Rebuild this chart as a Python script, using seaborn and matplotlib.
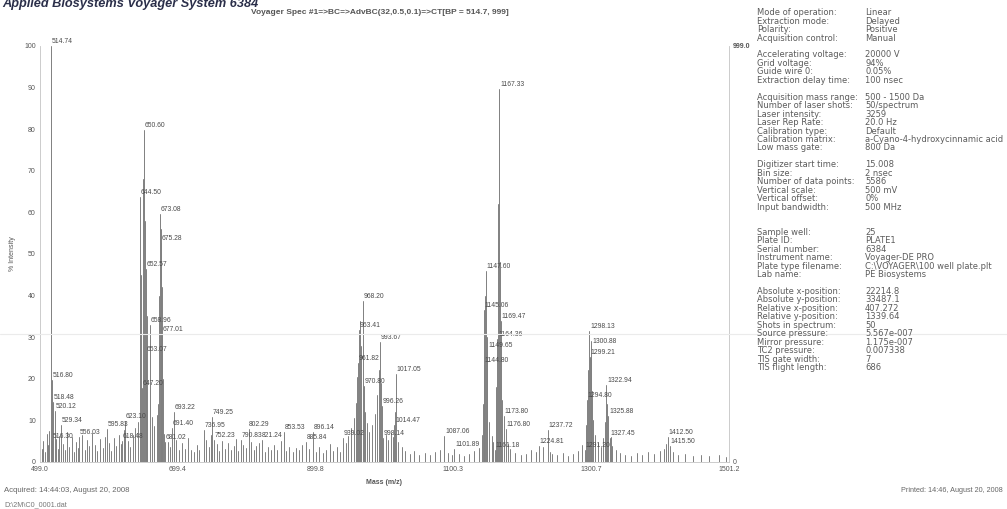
import matplotlib
matplotlib.use("Agg")
import matplotlib.pyplot as plt
import seaborn as sns
import pandas as pd

# ---------------------------------------------------------------- data
# annotated peaks: m/z and relative intensity (%)
peak_mz = [514.74, 516.80, 518.48, 520.12, 529.34, 516.30, 556.03, 595.83,
           623.10, 618.48, 650.60, 644.50, 673.08, 675.28, 652.57, 658.96,
           677.01, 653.07, 647.20, 693.22, 691.40, 681.02, 736.95, 749.25,
           752.23, 790.83, 802.29, 821.24, 853.53, 885.84, 896.14, 939.02,
           968.20, 963.41, 993.67, 961.82, 1017.05, 970.80, 996.26, 1014.47,
           998.14, 1087.06, 1101.89, 1167.33, 1147.60, 1145.06, 1169.47,
           1164.36, 1149.65, 1144.80, 1173.80, 1176.80, 1161.18, 1237.72,
           1224.81, 1298.13, 1300.88, 1299.21, 1322.94, 1294.80, 1325.88,
           1327.45, 1291.20, 1412.50, 1415.50]
peak_int = [100.0, 19.7, 14.4, 12.3, 8.9, 5.0, 6.0, 7.9,
            9.9, 5.0, 79.8, 63.7, 59.6, 52.6, 46.4, 32.9,
            30.8, 26.0, 17.8, 12.0, 8.2, 4.8, 7.7, 10.8,
            5.3, 5.3, 7.9, 5.3, 7.2, 4.8, 7.2, 5.8,
            38.7, 31.7, 28.8, 23.8, 21.2, 18.3, 13.5, 8.9,
            5.8, 6.3, 3.1, 89.7, 45.9, 36.5, 33.9,
            29.6, 26.9, 23.3, 11.1, 7.9, 2.9, 7.7,
            3.8, 31.5, 27.9, 25.2, 18.5, 14.9, 11.1,
            5.8, 2.9, 6.0, 3.8]

# unlabelled peaks (m/z, relative intensity %)
minor_low = [(501.2, 3.2), (503.6, 5.1), (506.1, 2.4), (508.9, 6.8), (511.3, 4.2),
             (512.6, 7.5), (522.4, 5.6), (524.9, 3.1), (527.1, 6.2), (532.5, 4.4),
             (535.8, 2.8), (538.2, 7.1), (541.7, 3.6), (545.3, 5.9), (548.6, 2.5),
             (551.2, 4.8), (553.9, 3.3), (560.4, 6.5), (563.8, 2.9), (567.2, 5.2),
             (570.5, 3.8), (574.1, 6.9), (578.3, 4.1), (582.6, 2.7), (586.9, 5.5),
             (590.2, 3.4), (593.4, 6.1), (599.1, 4.6), (602.7, 2.6), (606.3, 5.8),
             (609.8, 3.9), (613.5, 6.6), (616.1, 4.3), (621.4, 7.8), (626.8, 5.0),
             (630.2, 3.5), (633.7, 6.4), (637.4, 8.2), (641.1, 9.5), (646.0, 45.0),
             (649.2, 68.0), (651.9, 58.0), (654.0, 35.0), (655.3, 12.5), (661.8, 10.8),
             (664.2, 8.6), (668.5, 11.2), (671.0, 14.0), (671.8, 40.0), (674.3, 56.0),
             (676.4, 42.0), (678.0, 20.0), (679.4, 6.7), (684.6, 4.9), (688.1, 3.7),
             (697.5, 5.3), (701.8, 2.9), (705.6, 4.5), (709.3, 3.2), (713.9, 5.7),
             (718.2, 2.8)]
minor_mid = [(722.6, 2.5), (727.4, 4.1), (731.0, 3.0), (740.5, 5.2), (744.2, 3.6),
             (747.1, 6.4), (755.8, 4.4), (759.3, 2.7), (763.7, 5.0), (767.4, 3.1),
             (771.9, 4.6), (776.2, 2.9), (780.5, 3.8), (784.1, 5.6), (787.6, 2.6),
             (794.2, 4.0), (798.5, 3.3), (806.3, 4.7), (809.9, 2.8), (813.2, 3.9),
             (817.7, 4.5), (826.4, 2.4), (830.8, 3.5), (835.1, 2.9), (839.6, 4.2),
             (844.2, 3.0), (848.9, 5.1), (857.3, 2.6), (861.7, 3.7), (866.4, 2.3),
             (871.0, 3.4), (875.5, 2.8), (880.2, 4.0), (890.3, 3.1), (900.8, 2.5),
             (905.4, 3.6), (910.6, 2.2), (915.2, 3.0), (920.7, 4.3), (925.3, 2.7),
             (930.9, 3.5), (935.4, 2.4), (943.6, 4.6), (947.2, 6.3), (951.8, 8.1),
             (955.4, 10.5), (958.6, 14.2), (960.2, 20.5), (965.0, 34.0), (966.6, 28.0),
             (972.4, 12.0), (974.5, 9.4), (978.2, 7.2), (982.6, 8.8), (986.4, 11.5),
             (989.9, 16.0), (991.8, 22.0), (995.0, 19.0), (1001.7, 6.4), (1005.3, 5.2),
             (1009.1, 7.0), (1011.8, 6.1), (1015.6, 12.0), (1020.4, 4.8), (1024.9, 3.6),
             (1030.2, 2.7), (1036.8, 2.0), (1042.5, 2.6), (1050.3, 1.8), (1058.7, 2.2),
             (1066.2, 1.6), (1073.5, 2.4), (1080.4, 3.0), (1092.1, 2.1), (1098.6, 1.7),
             (1108.3, 1.9), (1115.9, 1.5), (1123.4, 2.0), (1130.7, 2.6), (1137.2, 3.4)]
minor_high = [(1141.5, 6.5), (1143.2, 14.0), (1146.3, 40.0), (1148.8, 30.0), (1152.8, 9.5),
              (1155.9, 6.2), (1158.4, 4.8), (1163.0, 18.0), (1165.8, 62.0), (1168.2, 48.0),
              (1171.6, 15.0), (1179.4, 4.4), (1183.2, 3.1), (1190.5, 2.2), (1198.7, 1.8),
              (1206.1, 2.0), (1213.4, 2.9), (1219.8, 2.3), (1230.5, 3.6), (1241.0, 2.5),
              (1244.3, 2.0), (1251.6, 1.6), (1259.2, 2.1), (1266.8, 1.5), (1274.1, 1.9),
              (1281.9, 2.6), (1287.3, 4.1), (1293.0, 9.0), (1296.6, 22.0), (1299.9, 29.0),
              (1302.4, 17.0), (1303.6, 10.0), (1306.9, 6.5), (1310.4, 4.6), (1314.8, 3.5),
              (1318.2, 5.8), (1320.6, 9.5), (1324.3, 14.0), (1329.8, 6.0), (1331.6, 3.8),
              (1336.2, 2.9), (1342.8, 2.2), (1350.1, 1.8), (1358.4, 1.5), (1366.9, 2.1),
              (1375.3, 1.6), (1383.7, 2.4), (1392.2, 1.9), (1400.6, 2.6), (1406.4, 3.2),
              (1410.2, 4.4), (1419.8, 2.3), (1427.3, 1.7), (1436.9, 2.0), (1448.2, 1.5),
              (1460.7, 1.8), (1472.5, 1.4), (1486.3, 1.6), (1496.8, 1.3)]

x_tick_values = [499.0, 699.44, 899.88, 1100.32, 1300.76, 1501.2]
x_tick_labels = ["499.0", "699.4", "899.8", "1100.3", "1300.7", "1501.2"]
y_tick_values = [0, 10, 20, 30, 40, 50, 60, 70, 80, 90, 100]
base_peak_counts = "999.0"

settings_labels = [
    "Mode of operation:", "Extraction mode:", "Polarity:", "Acquisition control:", None,
    "Accelerating voltage:", "Grid voltage:", "Guide wire 0:", "Extraction delay time:", None,
    "Acquisition mass range:", "Number of laser shots:", "Laser intensity:", "Laser Rep Rate:",
    "Calibration type:", "Calibration matrix:", "Low mass gate:", None,
    "Digitizer start time:", "Bin size:", "Number of data points:", "Vertical scale:",
    "Vertical offset:", "Input bandwidth:", None, None,
    "Sample well:", "Plate ID:", "Serial number:", "Instrument name:", "Plate type filename:",
    "Lab name:", None,
    "Absolute x-position:", "Absolute y-position:", "Relative x-position:",
    "Relative y-position:", "Shots in spectrum:", "Source pressure:", "Mirror pressure:",
    "TC2 pressure:", "TIS gate width:", "TIS flight length:"]
settings_values = [
    "Linear", "Delayed", "Positive", "Manual", None,
    "20000 V", "94%", "0.05%", "100 nsec", None,
    "500 - 1500 Da", "50/spectrum", "3259", "20.0 Hz",
    "Default", "a-Cyano-4-hydroxycinnamic acid", "800 Da", None,
    "15.008", "2 nsec", "5586", "500 mV", "0%", "500 MHz", None, None,
    "25", "PLATE1", "6384", "Voyager-DE PRO", "C:\\VOYAGER\\100 well plate.plt",
    "PE Biosystems", None,
    "22214.8", "33487.1", "407.272", "1339.64", "50", "5.567e-007", "1.175e-007",
    "0.007338", "7", "686"]

# ---------------------------------------------------------------- figure
sns.set_theme(style="white")
plt.rcParams['font.family'] = ['Liberation Sans', 'DejaVu Sans']

W, H = 1007, 509
fig = plt.figure(figsize=(W / 100, H / 100), dpi=100)
fig.patch.set_facecolor("white")


def fx(px):
    return px / W


def fy(py):
    return 1 - py / H


ax = fig.add_axes([fx(40), fy(462), fx(729) - fx(40), fy(46) - fy(462)])
ax.set_facecolor("white")

# each peak is a vertical stick from the baseline up to its intensity
all_peaks = list(zip(peak_mz, peak_int)) + minor_low + minor_mid + minor_high
rows = []
for i, (m, h) in enumerate(all_peaks):
    rows.append({"peak": i, "mz": m, "intensity": 0.0})
    rows.append({"peak": i, "mz": m, "intensity": h})
spectrum = pd.DataFrame(rows)

sns.lineplot(data=spectrum, x="mz", y="intensity", units="peak", estimator=None,
             sort=False, color="#808080", linewidth=0.7, legend=False, ax=ax)

for m, h in zip(peak_mz, peak_int):
    ax.annotate(f"{m:.2f}", (m, h), xytext=(0.5, 0.6), textcoords="offset points",
                ha="left", va="bottom", fontsize=4.9, color="#4a4a4a",
                annotation_clip=False)

ax.set_xlim(x_tick_values[0], x_tick_values[-1])
ax.set_ylim(0, 100)
ax.set_xticks(x_tick_values)
ax.set_xticklabels(x_tick_labels)
ax.set_yticks(y_tick_values)
ax.set_yticklabels([str(v) for v in y_tick_values])
ax.tick_params(axis="both", length=0, labelsize=5.0, labelcolor="#555555", pad=3)
ax.set_xlabel("Mass (m/z)", fontsize=5.0, color="#555555", fontweight="bold", labelpad=4)
ax.set_ylabel("% Intensity", fontsize=5.0, color="#555555", labelpad=6)
for side in ("left", "bottom", "right"):
    ax.spines[side].set_color("#c4c4c4")
    ax.spines[side].set_linewidth(0.6)
ax.spines["top"].set_visible(False)

# right-hand scale: absolute counts of the base peak
ax.text(1.006, 1.0, base_peak_counts, transform=ax.transAxes, fontsize=5.0,
        color="#555555", ha="left", va="center", fontweight="bold")
ax.text(1.006, 0.0, "0", transform=ax.transAxes, fontsize=5.0,
        color="#555555", ha="left", va="center")

# faint horizontal rule across the page
fig.add_artist(plt.Line2D([0, 1], [fy(334), fy(334)], color="#ebebeb", lw=0.8))

# ---------------------------------------------------------------- header
fig.text(fx(2), fy(6.5), "Applied Biosystems Voyager System 6384", fontsize=9.2,
         fontweight="bold", fontstyle="italic", color="#2b2f4a", ha="left", va="baseline")
fig.text(fx(380), fy(13), "Voyager Spec #1=>BC=>AdvBC(32,0.5,0.1)=>CT[BP = 514.7, 999]",
         fontsize=6.0, fontweight="bold", color="#555555", ha="center", va="center")

# ---------------------------------------------------------------- settings panel
row0, row_h = 12.7, 8.45
for i, (lab, val) in enumerate(zip(settings_labels, settings_values)):
    if lab is None:
        continue
    y = fy(row0 + i * row_h)
    fig.text(fx(757), y, lab, fontsize=6.0, color="#5c5c5c", ha="left", va="center",
             family="DejaVu Sans")
    fig.text(fx(865), y, val, fontsize=6.0, color="#5c5c5c", ha="left", va="center",
             family="DejaVu Sans")

# ---------------------------------------------------------------- footer
fig.text(fx(4), fy(490), "Acquired: 14:44:03, August 20, 2008", fontsize=5.6,
         color="#666666", ha="left", va="center")
fig.text(fx(4), fy(505), "D:\\2M\\C0_0001.dat", fontsize=5.2,
         color="#777777", ha="left", va="center")
fig.text(fx(1003), fy(490), "Printed: 14:46, August 20, 2008", fontsize=5.2,
         color="#666666", ha="right", va="center")

fig.savefig("out.png", dpi=100, facecolor="white")
